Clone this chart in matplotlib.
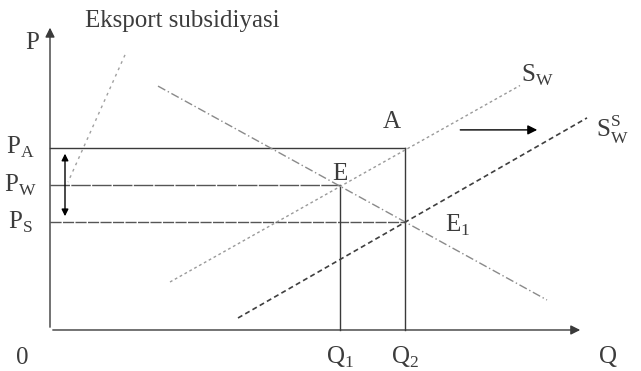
import numpy as np
import matplotlib.pyplot as plt

plt.rcParams['font.family'] = ['Liberation Serif', 'DejaVu Serif']

# market values (Q on x, P on y)
q1 = 5.8
q2 = 7.1
p_a = 6.07
p_w = 4.83
p_s = 3.6
q_max = 10.66
p_max = 10.17

demand_q = [2.16, 9.94]
demand_p = [8.13, 1.0]
sw_q = [2.4, 9.4]
sw_p = [1.6, 8.15]
ssw_q = [3.76, 10.74]
ssw_p = [0.4, 7.07]

fig = plt.figure(figsize=(6.41, 3.71), dpi=100)
ax = fig.add_axes([0, 0, 1, 1])
ax.set_xlim(-1.0, 11.82)
ax.set_ylim(-1.367, 11.0)
ax.axis('off')

dark = '#3a3a3a'
txt = '#3c3c3c'
fs = 18

# axes with arrows
ax.annotate('', xy=(q_max, 0), xytext=(0, 0),
            arrowprops=dict(arrowstyle='-|>', color=dark, lw=1, mutation_scale=14))
ax.annotate('', xy=(0, p_max), xytext=(0, 0),
            arrowprops=dict(arrowstyle='-|>', color=dark, lw=1, mutation_scale=14))

# price lines and quantity drops
ax.plot([0, q2], [p_a, p_a], color=dark, lw=1)
ax.plot([0, q1], [p_w, p_w], color='#555555', lw=1, ls=(0, (14, 1)))
ax.plot([0, q2], [p_s, p_s], color='#555555', lw=1, ls=(0, (8, 1)))
ax.plot([q1, q1], [0, p_w], color=dark, lw=1)
ax.plot([q2, q2], [0, p_a], color=dark, lw=1)

# curves
ax.plot(demand_q, demand_p, color='#8a8a8a', lw=1, ls=(0, (6, 2, 1, 2)))
ax.plot(sw_q, sw_p, color='#9a9a9a', lw=1, ls=(0, (2, 2)))
ax.plot(ssw_q, ssw_p, color='#3f3f3f', lw=1.2, ls=(0, (3, 2)))

# shift arrow
ax.annotate('', xy=(9.8, 6.67), xytext=(8.15, 6.67),
            arrowprops=dict(arrowstyle='-|>', color='black', lw=1, mutation_scale=14))

# subsidy double arrow
ax.annotate('', xy=(0.3, p_a - 0.1), xytext=(0.3, p_s + 0.1),
            arrowprops=dict(arrowstyle='<|-|>', color='black', lw=1, mutation_scale=10))

# leader line
ax.plot([1.5, 0.36], [9.17, 4.93], color='#a0a0a0', lw=1, ls=(0, (2, 3)))

ax.text(0.7, 10.3, 'Eksport subsidiyasi', fontsize=fs, color=txt, va='center', ha='left')
ax.text(-0.35, 9.55, 'P', fontsize=fs, color=txt, va='center', ha='center')
ax.text(-0.55, -0.93, '0', fontsize=fs, color=txt, va='center', ha='center')
ax.text(-0.6, p_a, r'P$_\mathregular{A}$', fontsize=fs, color=txt, va='center', ha='center')
ax.text(-0.6, p_w, r'P$_\mathregular{W}$', fontsize=fs, color=txt, va='center', ha='center')
ax.text(-0.6, p_s, r'P$_\mathregular{S}$', fontsize=fs, color=txt, va='center', ha='center')
ax.text(q1, -0.9, r'Q$_\mathregular{1}$', fontsize=fs, color=txt, va='center', ha='center')
ax.text(q2, -0.9, r'Q$_\mathregular{2}$', fontsize=fs, color=txt, va='center', ha='center')
ax.text(11.15, -0.9, 'Q', fontsize=fs, color=txt, va='center', ha='center')
ax.text(6.84, 6.93, 'A', fontsize=fs, color=txt, va='center', ha='center')
ax.text(5.8, 5.2, 'E', fontsize=fs, color=txt, va='center', ha='center')
ax.text(8.15, 3.5, r'E$_\mathregular{1}$', fontsize=fs, color=txt, va='center', ha='center')
ax.text(9.75, 8.5, r'S$_\mathregular{W}$', fontsize=fs, color=txt, va='center', ha='center')
ax.text(11.25, 6.67, r'S$^\mathregular{S}_\mathregular{W}$', fontsize=fs, color=txt, va='center', ha='center')

fig.savefig('out.png', dpi=100)
